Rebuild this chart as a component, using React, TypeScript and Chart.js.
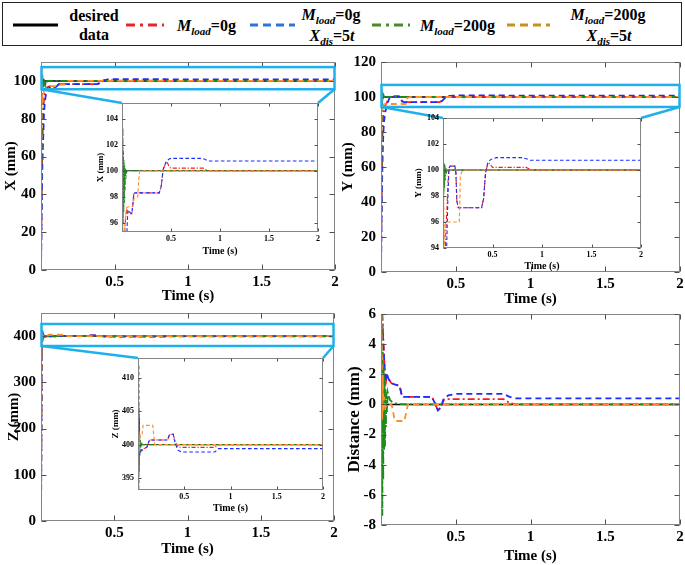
import React, { useEffect, useRef } from "react";
import { Chart, registerables } from "chart.js";

Chart.register(...registerables);

type Pt = [number, number];

// ---------------- data ----------------
const TIME_TICKS = [0.5, 1, 1.5, 2];
const X_MAIN_TICKS = [0, 20, 40, 60, 80, 100];
const Y_MAIN_TICKS = [0, 20, 40, 60, 80, 100, 120];
const Z_MAIN_TICKS = [0, 100, 200, 300, 400];
const D_TICKS = [-8, -6, -4, -2, 0, 2, 4, 6];
const X_INSET_TICKS = [96, 98, 100, 102, 104];
const Y_INSET_TICKS = [94, 96, 98, 100, 102, 104];
const Z_INSET_TICKS = [395, 400, 405, 410];

// X position (mm)
const X_DESIRED: Pt[] = [[0, 100], [2, 100]];
const X_RED: Pt[] = [[0, 0], [0.004, 35], [0.008, 60], [0.012, 74], [0.016, 84], [0.02, 90], [0.025, 94], [0.03, 95.6], [0.04, 96.6], [0.05, 97.0], [0.06, 96.9], [0.08, 96.7], [0.1, 96.7], [0.11, 97.4], [0.12, 98.2], [0.13, 98.3], [0.38, 98.3], [0.4, 98.8], [0.42, 100.1], [0.44, 100.5], [0.46, 100.7], [0.48, 100.3], [0.5, 100.2], [0.83, 100.2], [0.87, 100.05], [0.9, 100], [2, 100]];
const X_BLUE: Pt[] = [[0, 0], [0.004, 25], [0.008, 50], [0.012, 64], [0.016, 72], [0.02, 82], [0.025, 88], [0.03, 91], [0.035, 93.5], [0.04, 94.5], [0.05, 95.2], [0.055, 96.2], [0.06, 97.0], [0.08, 96.8], [0.1, 96.7], [0.11, 97.4], [0.12, 98.2], [0.13, 98.3], [0.38, 98.3], [0.4, 98.8], [0.42, 100.1], [0.45, 100.7], [0.48, 100.9], [0.5, 100.95], [0.8, 100.95], [0.84, 100.9], [0.88, 100.75], [2, 100.75]];
const X_GREEN: Pt[] = [[0, 0], [0.003, 50], [0.006, 92], [0.009, 103.3], [0.012, 96], [0.015, 101.5], [0.018, 96.8], [0.021, 100.8], [0.024, 97.5], [0.027, 100.4], [0.031, 98.5], [0.036, 100.2], [0.042, 99.6], [0.05, 100], [2, 100]];
const X_ORANGE: Pt[] = [[0, 0], [0.002, 60], [0.004, 104.6], [0.007, 97], [0.01, 88], [0.014, 93], [0.02, 94.5], [0.03, 96], [0.04, 96.8], [0.05, 97.2], [0.11, 97.3], [0.125, 97.9], [0.16, 98.0], [0.17, 99.2], [0.18, 100], [2, 100]];

// Y position (mm)
const Y_DESIRED: Pt[] = [[0, 100], [2, 100]];
const Y_RED: Pt[] = [[0, 0], [0.004, 40], [0.008, 70], [0.012, 84], [0.016, 90], [0.02, 93], [0.03, 95.5], [0.04, 97], [0.05, 99], [0.06, 100.1], [0.07, 100.3], [0.12, 100.3], [0.13, 99.8], [0.14, 97.6], [0.155, 97.1], [0.39, 97.1], [0.41, 97.8], [0.43, 99.8], [0.45, 100.4], [0.47, 100.5], [0.5, 100.2], [0.84, 100.2], [0.88, 100.05], [0.9, 100], [2, 100]];
const Y_BLUE: Pt[] = [[0, 0], [0.004, 30], [0.008, 55], [0.012, 70], [0.016, 80], [0.02, 86], [0.03, 92], [0.04, 95], [0.05, 98], [0.06, 100.1], [0.07, 100.3], [0.12, 100.3], [0.13, 99.8], [0.14, 97.6], [0.155, 97.1], [0.39, 97.1], [0.41, 97.8], [0.43, 99.8], [0.45, 100.5], [0.48, 100.8], [0.54, 100.95], [0.8, 100.95], [0.85, 100.85], [0.88, 100.75], [2, 100.75]];
const Y_GREEN: Pt[] = [[0, 0], [0.003, 60], [0.006, 100.6], [0.009, 98.2], [0.012, 100.5], [0.015, 98.6], [0.019, 100.4], [0.023, 99.2], [0.028, 100.2], [0.035, 99.8], [0.045, 100], [2, 100]];
const Y_ORANGE: Pt[] = [[0, 0], [0.002, 70], [0.004, 102.1], [0.007, 97], [0.01, 92], [0.015, 94.5], [0.02, 95.8], [0.03, 96], [0.165, 96], [0.175, 99.6], [0.2, 100], [2, 100]];

// Z position (mm)
const Z_DESIRED: Pt[] = [[0, 400], [2, 400]];
const Z_RED: Pt[] = [[0, 0], [0.003, 200], [0.006, 385], [0.009, 405], [0.012, 397], [0.015, 402], [0.02, 398.8], [0.03, 399.2], [0.05, 399.3], [0.08, 399.5], [0.1, 399.7], [0.11, 400.2], [0.125, 400.7], [0.32, 400.7], [0.34, 401.5], [0.38, 401.6], [0.4, 400.5], [0.43, 399.7], [0.47, 399.6], [0.83, 399.6], [0.87, 399.95], [0.9, 400], [2, 400]];
const Z_BLUE: Pt[] = [[0, 0], [0.003, 180], [0.006, 370], [0.009, 412], [0.012, 396], [0.015, 404], [0.02, 398.5], [0.03, 399], [0.05, 399.2], [0.08, 399.5], [0.1, 399.7], [0.11, 400.2], [0.125, 400.7], [0.32, 400.7], [0.34, 401.5], [0.38, 401.6], [0.4, 400.3], [0.43, 399.2], [0.47, 398.9], [0.83, 398.9], [0.87, 399.4], [2, 399.4]];
const Z_GREEN: Pt[] = [[0, 0], [0.002, 200], [0.004, 409], [0.006, 394], [0.008, 406], [0.01, 395.5], [0.012, 403], [0.015, 397], [0.018, 401.5], [0.022, 398.8], [0.026, 400.8], [0.03, 399.5], [0.04, 400.2], [0.05, 400], [2, 400]];
const Z_ORANGE: Pt[] = [[0, 0], [0.002, 300], [0.004, 405], [0.007, 396], [0.01, 402], [0.014, 399], [0.02, 401], [0.03, 401.5], [0.045, 401.6], [0.055, 402.9], [0.16, 402.9], [0.17, 401.4], [0.18, 400], [2, 400]];

// Distance (mm)
const D_DESIRED: Pt[] = [[0, 0], [2, 0]];
const D_RED: Pt[] = [[0, 8], [0.015, 4.5], [0.025, 2.2], [0.03, 1.2], [0.038, 2.0], [0.05, 1.7], [0.07, 1.4], [0.1, 1.3], [0.12, 1.25], [0.13, 1.0], [0.14, 0.55], [0.15, 0.5], [0.34, 0.5], [0.36, 0.1], [0.38, -0.4], [0.4, -0.2], [0.42, 0.3], [0.45, 0.35], [0.82, 0.35], [0.86, 0.1], [0.9, 0], [2, 0]];
const D_BLUE: Pt[] = [[0, 8], [0.015, 4], [0.025, 2.4], [0.03, 1.5], [0.038, 2.1], [0.05, 1.7], [0.07, 1.4], [0.1, 1.3], [0.12, 1.25], [0.13, 1.0], [0.14, 0.55], [0.15, 0.5], [0.34, 0.5], [0.36, 0.1], [0.38, -0.4], [0.4, -0.2], [0.42, 0.4], [0.45, 0.6], [0.5, 0.7], [0.82, 0.7], [0.86, 0.5], [0.9, 0.4], [2, 0.4]];
const D_GREEN: Pt[] = [[0, 8], [0.005, 5.3], [0.009, -7.4], [0.012, 3.5], [0.015, -5], [0.018, 2.5], [0.021, -3], [0.024, 1.8], [0.027, -2.8], [0.03, 1], [0.033, -1.5], [0.036, 0.8], [0.04, -0.5], [0.045, 0.8], [0.05, 0.6], [0.06, 0.3], [0.08, 0.1], [0.12, 0.02], [0.2, 0], [2, 0]];
const D_ORANGE: Pt[] = [[0, 8], [0.004, 6], [0.008, -1], [0.012, 2], [0.016, -0.5], [0.02, 0.5], [0.03, -0.2], [0.04, 0], [0.07, 0], [0.08, -0.4], [0.09, -1.0], [0.1, -1.1], [0.155, -1.1], [0.17, -0.5], [0.18, 0], [2, 0]];

// ---------------- styles ----------------
const FONT = "'Liberation Serif', 'Times New Roman', Times, serif";
const LINE_COLORS = ["#000000", "#ff1a1a", "#1a2cff", "#1f8a1f", "#ff8f26"];
const LEGEND_COLORS = ["#000000", "#e8262a", "#2f74d8", "#4b8a2c", "#c8921a"];
const DASHES = [[], [7, 3, 2, 3], [6, 4], [7, 3, 2, 3], [6, 4]];
const ZOOM_COLOR = "#1fb0ec";
const FRAME_COLOR = "#858585";

interface Frame {
  left: number; top: number; width: number; height: number;
  yW: number; xH: number; padTop: number; padRight: number;
}

interface PanelProps {
  frame: Frame;
  inset: boolean;
  yMin: number; yMax: number; yTicks: number[];
  yTitle: string;
  series: Pt[][];
  tickFont: number; xTitleFont: number; yTitleFont: number;
  xTitlePad: number; yTitlePad: number; xTickPad: number; yTickPad: number;
  tickLen: number;
  zoom?: { y0: number; y1: number; target: Frame };
}

const TL_INSET: Frame = { left: 92, top: 95, width: 232, height: 163, yW: 30, xH: 26, padTop: 8, padRight: 6 };
const TR_INSET: Frame = { left: 410, top: 110, width: 236, height: 164, yW: 33, xH: 26, padTop: 8, padRight: 5 };
const BL_INSET: Frame = { left: 106, top: 350, width: 222, height: 166, yW: 32, xH: 26, padTop: 8, padRight: 5 };

function Panel(p: PanelProps) {
  const ref = useRef<HTMLCanvasElement>(null);
  useEffect(() => {
    const canvas = ref.current;
    if (!canvas) return;
    const f = p.frame;
    const lw = p.inset ? 1.1 : 1.8;
    const k = p.inset ? 0.6 : 1;
    const datasets = [4, 3, 2, 1, 0].map((i) => ({
      data: p.series[i].map(([x, y]) => ({ x, y })),
      borderColor: LINE_COLORS[i],
      borderWidth: i === 0 ? lw * 0.8 : lw,
      borderDash: DASHES[i].map((d) => d * k),
      pointRadius: 0,
      fill: false,
      tension: 0,
      clip: 0,
    }));
    const tickFontObj = { family: FONT, weight: "bold" as const, size: p.tickFont };

    const framePlugin = {
      id: "frameTicks",
      beforeDraw(chart: any) {
        if (!p.inset) return;
        const a = chart.chartArea;
        const ctx = chart.ctx;
        ctx.save();
        ctx.fillStyle = "#ffffff";
        ctx.fillRect(a.left, a.top, a.right - a.left, a.bottom - a.top);
        ctx.restore();
      },
      afterDatasetsDraw(chart: any) {
        const { ctx, chartArea: a, scales } = chart;
        ctx.save();
        ctx.strokeStyle = FRAME_COLOR;
        ctx.lineWidth = 1;
        const L = Math.round(a.left) + 0.5, R = Math.round(a.right) - 0.5;
        const T = Math.round(a.top) + 0.5, B = Math.round(a.bottom) - 0.5;
        ctx.strokeRect(L, T, R - L, B - T);
        ctx.strokeStyle = "#505050";
        ctx.beginPath();
        for (const v of TIME_TICKS) {
          const px = Math.round(scales.x.getPixelForValue(v)) + 0.5;
          ctx.moveTo(px, B); ctx.lineTo(px, B - p.tickLen);
          ctx.moveTo(px, T); ctx.lineTo(px, T + p.tickLen);
        }
        for (const v of p.yTicks) {
          const py = Math.round(scales.y.getPixelForValue(v)) + 0.5;
          ctx.moveTo(L, py); ctx.lineTo(L + p.tickLen, py);
          ctx.moveTo(R, py); ctx.lineTo(R - p.tickLen, py);
        }
        ctx.stroke();
        ctx.restore();
      },
    };

    const zoomPlugin = {
      id: "zoomBox",
      afterDraw(chart: any) {
        if (!p.zoom) return;
        const { ctx, scales } = chart;
        const z = p.zoom;
        const x0 = scales.x.getPixelForValue(0);
        const x1 = scales.x.getPixelForValue(2);
        const yT = scales.y.getPixelForValue(z.y1);
        const yB = scales.y.getPixelForValue(z.y0);
        const t = z.target;
        const tlx = t.left + t.yW - f.left;
        const tly = t.top + t.padTop - f.top;
        const trx = t.left + t.width - t.padRight - f.left;
        ctx.save();
        ctx.strokeStyle = ZOOM_COLOR;
        ctx.lineWidth = 2.5;
        ctx.strokeRect(x0 + 0.5, yT, x1 - x0 - 1, yB - yT);
        ctx.beginPath();
        ctx.moveTo(x0 + 0.5, yB); ctx.lineTo(tlx, tly);
        ctx.moveTo(x1 - 0.5, yB); ctx.lineTo(trx, tly);
        ctx.stroke();
        ctx.restore();
      },
    };

    const chart = new Chart(canvas, {
      type: "line",
      data: { datasets: datasets as any },
      options: {
        animation: false,
        responsive: false,
        maintainAspectRatio: false,
        devicePixelRatio: 1,
        layout: { padding: { top: f.padTop, right: f.padRight, left: 0, bottom: 0 } },
        plugins: { legend: { display: false }, tooltip: { enabled: false } },
        events: [],
        scales: {
          x: {
            type: "linear",
            min: 0,
            max: 2,
            afterBuildTicks: (s: any) => { s.ticks = TIME_TICKS.map((v) => ({ value: v })); },
            afterFit: (s: any) => { s.height = f.xH; s.paddingLeft = 0; s.paddingRight = 0; },
            grid: { display: false, drawTicks: false },
            border: { display: false },
            ticks: {
              autoSkip: false, maxRotation: 0, padding: p.xTickPad, color: "#000",
              font: tickFontObj, callback: (v: any) => String(v),
            },
            title: {
              display: true, text: "Time (s)", color: "#000",
              font: { family: FONT, weight: "bold", size: p.xTitleFont },
              padding: { top: 0, bottom: p.xTitlePad },
            },
          },
          y: {
            type: "linear",
            min: p.yMin,
            max: p.yMax,
            afterBuildTicks: (s: any) => { s.ticks = p.yTicks.map((v) => ({ value: v })); },
            afterFit: (s: any) => { s.width = f.yW; s.paddingTop = 0; s.paddingBottom = 0; },
            grid: { display: false, drawTicks: false },
            border: { display: false },
            ticks: {
              autoSkip: false, padding: p.yTickPad, color: "#000",
              font: tickFontObj, callback: (v: any) => String(v),
            },
            title: {
              display: true, text: p.yTitle, color: "#000",
              font: { family: FONT, weight: "bold", size: p.yTitleFont },
              padding: { top: p.yTitlePad, bottom: 0 },
            },
          },
        },
      } as any,
      plugins: [framePlugin, zoomPlugin],
    });
    return () => chart.destroy();
  }, []);
  const f = p.frame;
  return (
    <canvas
      ref={ref}
      width={f.width}
      height={f.height}
      style={{ position: "absolute", left: f.left, top: f.top, width: f.width, height: f.height }}
    />
  );
}

const textBase: React.CSSProperties = {
  position: "absolute",
  fontFamily: FONT,
  fontWeight: "bold",
  fontSize: 16,
  lineHeight: "18px",
  whiteSpace: "nowrap",
  color: "#000",
};

function Sub({ children }: { children: React.ReactNode }) {
  return <span style={{ fontSize: 11, fontStyle: "italic", position: "relative", top: 4 }}>{children}</span>;
}

function MLoad({ mass }: { mass: string }) {
  return (
    <span><i>M</i><Sub>load</Sub>={mass}</span>
  );
}

function XDis() {
  return (
    <span><i>X</i><Sub>dis</Sub>=5<i>t</i></span>
  );
}

function Centered({ cx, cy, children }: { cx: number; cy: number; children: React.ReactNode }) {
  return <div style={{ ...textBase, left: cx, top: cy, transform: "translate(-50%, -50%)" }}>{children}</div>;
}

function LeftText({ x, cy, children }: { x: number; cy: number; children: React.ReactNode }) {
  return <div style={{ ...textBase, left: x, top: cy, transform: "translate(0, -50%)" }}>{children}</div>;
}

const LEGEND_SAMPLES: [number, number][] = [[13, 58], [126, 164], [250, 295], [372, 410], [507, 550]];

function Legend() {
  return (
    <div style={{ position: "absolute", left: 2, top: 2, width: 681, height: 45 }}>
      <div style={{ position: "absolute", left: 0, top: 0, width: 678, height: 42, border: "1.5px solid #222" }} />
      <svg width={681} height={45} style={{ position: "absolute", left: 0, top: 0 }}>
        {LEGEND_SAMPLES.map(([a, b], i) => (
          <line key={i} x1={a - 2} y1={23} x2={b - 2} y2={23}
            stroke={LEGEND_COLORS[i]} strokeWidth={3}
            strokeDasharray={i === 0 ? undefined : i % 2 === 1 ? "9 5 3 5" : "8 5"} />
        ))}
      </svg>
      <Centered cx={92} cy={14}>desired</Centered>
      <Centered cx={92} cy={33}>data</Centered>
      <LeftText x={175} cy={24}><MLoad mass="0g" /></LeftText>
      <Centered cx={329} cy={13}><MLoad mass="0g" /></Centered>
      <Centered cx={330} cy={34}><XDis /></Centered>
      <LeftText x={418} cy={24}><MLoad mass="200g" /></LeftText>
      <Centered cx={606} cy={13}><MLoad mass="200g" /></Centered>
      <Centered cx={607} cy={34}><XDis /></Centered>
    </div>
  );
}

export default function App() {
  const mainCommon = { inset: false, tickFont: 15, xTitleFont: 15, xTickPad: 3, yTickPad: 5, tickLen: 5 };
  const insetCommon = { inset: true, tickFont: 8, xTitleFont: 10, yTitleFont: 9, xTickPad: 2, yTickPad: 4, tickLen: 3 };
  return (
    <div style={{ position: "absolute", left: 0, top: 0, width: 685, height: 565, background: "#fff", overflow: "hidden" }}>
      <Legend />
      <Panel {...mainCommon}
        frame={{ left: 0, top: 50, width: 340, height: 255, yW: 41, xH: 35, padTop: 12, padRight: 5 }}
        yMin={0} yMax={110} yTicks={X_MAIN_TICKS} yTitle="X (mm)" yTitleFont={15} yTitlePad={2} xTitlePad={0}
        series={[X_DESIRED, X_RED, X_BLUE, X_GREEN, X_ORANGE]}
        zoom={{ y0: 95.6, y1: 107.3, target: TL_INSET }} />
      <Panel {...mainCommon}
        frame={{ left: 339, top: 50, width: 346, height: 260, yW: 42, xH: 38, padTop: 12, padRight: 5 }}
        yMin={0} yMax={120} yTicks={Y_MAIN_TICKS} yTitle="Y (mm)" yTitleFont={15} yTitlePad={0} xTitlePad={2}
        series={[Y_DESIRED, Y_RED, Y_BLUE, Y_GREEN, Y_ORANGE]}
        zoom={{ y0: 94.3, y1: 106.9, target: TR_INSET }} />
      <Panel {...mainCommon}
        frame={{ left: 0, top: 303, width: 340, height: 262, yW: 41, xH: 44, padTop: 10, padRight: 6 }}
        yMin={0} yMax={450} yTicks={Z_MAIN_TICKS} yTitle="Z (mm)" yTitleFont={15} yTitlePad={5} xTitlePad={7}
        series={[Z_DESIRED, Z_RED, Z_BLUE, Z_GREEN, Z_ORANGE]}
        zoom={{ y0: 378.6, y1: 426.2, target: BL_INSET }} />
      <Panel {...mainCommon}
        frame={{ left: 339, top: 303, width: 346, height: 262, yW: 42, xH: 40, padTop: 11, padRight: 5 }}
        yMin={-8} yMax={6} yTicks={D_TICKS} yTitle="Distance (mm)" yTitleFont={17} yTitlePad={5} xTitlePad={0}
        series={[D_DESIRED, D_RED, D_BLUE, D_GREEN, D_ORANGE]} />
      <Panel {...insetCommon}
        frame={TL_INSET}
        yMin={95.3} yMax={105.2} yTicks={X_INSET_TICKS} yTitle="X (mm)" yTitlePad={3} xTitlePad={1}
        series={[X_DESIRED, X_RED, X_BLUE, X_GREEN, X_ORANGE]} />
      <Panel {...insetCommon}
        frame={TR_INSET}
        yMin={94} yMax={104} yTicks={Y_INSET_TICKS} yTitle="Y (mm)" yTitlePad={3} xTitlePad={2}
        series={[Y_DESIRED, Y_RED, Y_BLUE, Y_GREEN, Y_ORANGE]} />
      <Panel {...insetCommon}
        frame={BL_INSET}
        yMin={393.2} yMax={413} yTicks={Z_INSET_TICKS} yTitle="Z (mm)" yTitlePad={4} xTitlePad={2}
        series={[Z_DESIRED, Z_RED, Z_BLUE, Z_GREEN, Z_ORANGE]} />
    </div>
  );
}
